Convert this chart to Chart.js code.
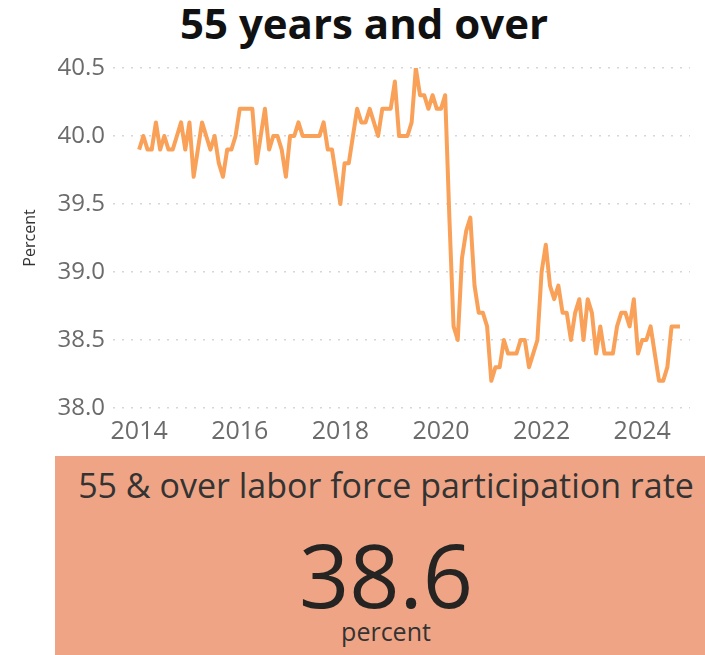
<!DOCTYPE html>
<html>
<head>
<meta charset="utf-8">
<script src="https://cdn.jsdelivr.net/npm/chart.js@4.4.1/dist/chart.umd.min.js"></script>
<style>
  html, body { margin: 0; padding: 0; background: #fff; width: 705px; height: 655px; overflow: hidden; position: relative; }
  #title { position: absolute; left: 0; top: -6px; width: 728px; text-align: center; font: bold 42px "Open Sans", sans-serif; color: #111; }
  #chart { position: absolute; left: 0; top: 0; }
  #card { position: absolute; left: 55px; top: 456px; width: 662px; height: 210px; background: #EFA585; text-align: center; font-family: "Open Sans", sans-serif; color: #333; }
  #card .lbl { position: absolute; left: 0; right: 0; top: 6px; font-size: 34px; white-space: nowrap; }
  #card .val { position: absolute; left: 0; right: 0; top: 58px; font-size: 88px; color: #252423; }
  #card .unit { position: absolute; left: 0; right: 0; top: 158px; font-size: 25px; }
</style>
</head>
<body>
<div id="title">55 years and over</div>
<canvas id="chart" width="705" height="455"></canvas>
<div id="card">
  <div class="lbl">55 &amp; over labor force participation rate</div>
  <div class="val">38.6</div>
  <div class="unit">percent</div>
</div>
<script>
// monthly, Jan 2014 .. Oct 2024
const startYear = 2014;
const rate = [
  39.9, 40.0, 39.9, 39.9, 40.1, 39.9, 40.0, 39.9, 39.9, 40.0, 40.1, 39.9, // 2014
  40.1, 39.7, 39.9, 40.1, 40.0, 39.9, 40.0, 39.8, 39.7, 39.9, 39.9, 40.0, // 2015
  40.2, 40.2, 40.2, 40.2, 39.8, 40.0, 40.2, 39.9, 40.0, 40.0, 39.9, 39.7, // 2016
  40.0, 40.0, 40.1, 40.0, 40.0, 40.0, 40.0, 40.0, 40.1, 39.9, 39.9, 39.7, // 2017
  39.5, 39.8, 39.8, 40.0, 40.2, 40.1, 40.1, 40.2, 40.1, 40.0, 40.2, 40.2, // 2018
  40.2, 40.4, 40.0, 40.0, 40.0, 40.1, 40.5, 40.3, 40.3, 40.2, 40.3, 40.2, // 2019
  40.2, 40.3, 39.4, 38.6, 38.5, 39.1, 39.3, 39.4, 38.9, 38.7, 38.7, 38.6, // 2020
  38.2, 38.3, 38.3, 38.5, 38.4, 38.4, 38.4, 38.5, 38.5, 38.3, 38.4, 38.5, // 2021
  39.0, 39.2, 38.9, 38.8, 38.9, 38.7, 38.7, 38.5, 38.7, 38.8, 38.5, 38.8, // 2022
  38.7, 38.4, 38.6, 38.4, 38.4, 38.4, 38.6, 38.7, 38.7, 38.6, 38.8, 38.4, // 2023
  38.5, 38.5, 38.6, 38.4, 38.2, 38.2, 38.3, 38.6, 38.6, 38.6              // 2024
];
const xTicks = [2014, 2016, 2018, 2020, 2022, 2024];
const xTickLabels = ['2014', '2016', '2018', '2020', '2022', '2024'];
const yTicks = [38.0, 38.5, 39.0, 39.5, 40.0, 40.5];

const points = rate.map((v, i) => ({ x: startYear + i / 12, y: v }));

const tickColor = '#6b6b6b';

new Chart(document.getElementById('chart').getContext('2d'), {
  type: 'line',
  data: {
    datasets: [{
      data: points,
      borderColor: '#F9A158',
      borderWidth: 4,
      radius: 0,
      tension: 0,
      borderJoinStyle: 'round'
    }]
  },
  options: {
    responsive: false,
    animation: false,
    layout: { padding: { left: 14, right: 15, top: 68, bottom: 0 } },
    plugins: { legend: { display: false }, tooltip: { enabled: false } },
    scales: {
      x: {
        type: 'linear',
        min: 2013.48,
        max: 2024.95,
        grid: { display: false },
        border: { display: false },
        afterBuildTicks: s => { s.ticks = xTicks.map(v => ({ value: v })); },
        afterFit: s => { s.height = 47; },
        ticks: {
          padding: 1,
          color: tickColor,
          font: { family: 'Open Sans', size: 25 },
          maxRotation: 0,
          callback: v => xTickLabels[xTicks.indexOf(v)]
        }
      },
      y: {
        min: 38,
        max: 40.5,
        grid: { color: '#d6d6d6', lineWidth: 1.5, drawTicks: false },
        border: { display: false, dash: [2, 7] },
        afterBuildTicks: s => { s.ticks = yTicks.map(v => ({ value: v })); },
        afterFit: s => { s.width = 99; },
        ticks: {
          padding: 8,
          color: tickColor,
          font: { family: 'Open Sans', size: 24 },
          callback: v => v.toFixed(1)
        },
        title: {
          display: true,
          text: 'Percent',
          color: '#333',
          font: { family: 'Open Sans', size: 16 },
          padding: { top: 7, bottom: 4 }
        }
      }
    }
  }
});
</script>
</body>
</html>
